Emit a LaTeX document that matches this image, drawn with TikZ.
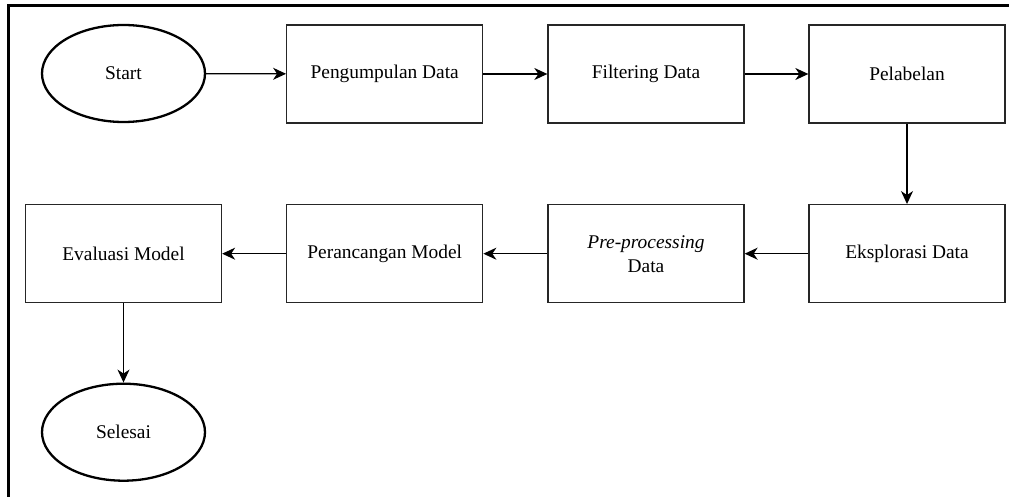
\documentclass[tikz,border=0pt]{standalone}
\usepackage{fontspec}
\setmainfont{Liberation Serif}
\usetikzlibrary{shapes.geometric,arrows.meta}

\begin{document}
\begin{tikzpicture}[x=1pt,y=-1pt,
		proses/.style={draw=black!85,line width=1.3pt,minimum width=196pt,minimum height=98pt,inner sep=0pt,align=center,font=\fontsize{19.4}{24}\selectfont},
		terminal/.style={ellipse,draw,line width=2.3pt,minimum width=163pt,minimum height=97pt,inner sep=0pt,font=\fontsize{19.4}{24}\selectfont},
		alur/.style={-{Stealth[length=13pt,width=12pt,inset=4pt]},line width=1.3pt}]
		\useasboundingbox (0,0) rectangle (1009,497);
		\draw[line width=2.5pt] (8.5,497)--(8.5,5.5)--(1009,5.5);
		% baris atas
		\node[terminal] (start) at (123.5,73.5) {Start};
		\node[proses] (kumpul) at (384.7,74) {Pengumpulan Data};
		\node[proses] (filter) at (646,74) {Filtering Data};
		\node[proses] (label) at (907,74) {Pelabelan};
		% baris bawah
		\node[proses] (eksplor) at (907,253.7) {Eksplorasi Data};
		\node[proses] (prepro) at (646,253.7) {\textit{Pre-processing}\\Data};
		\node[proses] (rancang) at (384.7,253.7) {Perancangan Model};
		\node[proses] (evaluasi) at (123.5,253.7) {Evaluasi Model};
		\node[terminal] (selesai) at (123.5,432.2) {Selesai};
		\draw[alur] (start)--(kumpul);
		\draw[alur] (kumpul)--(filter);
		\draw[alur] (filter)--(label);
		\draw[alur] (label)--(eksplor);
		\draw[alur] (eksplor)--(prepro);
		\draw[alur] (prepro)--(rancang);
		\draw[alur] (rancang)--(evaluasi);
		\draw[alur] (evaluasi)--(selesai);
	\end{tikzpicture}
\end{document}
